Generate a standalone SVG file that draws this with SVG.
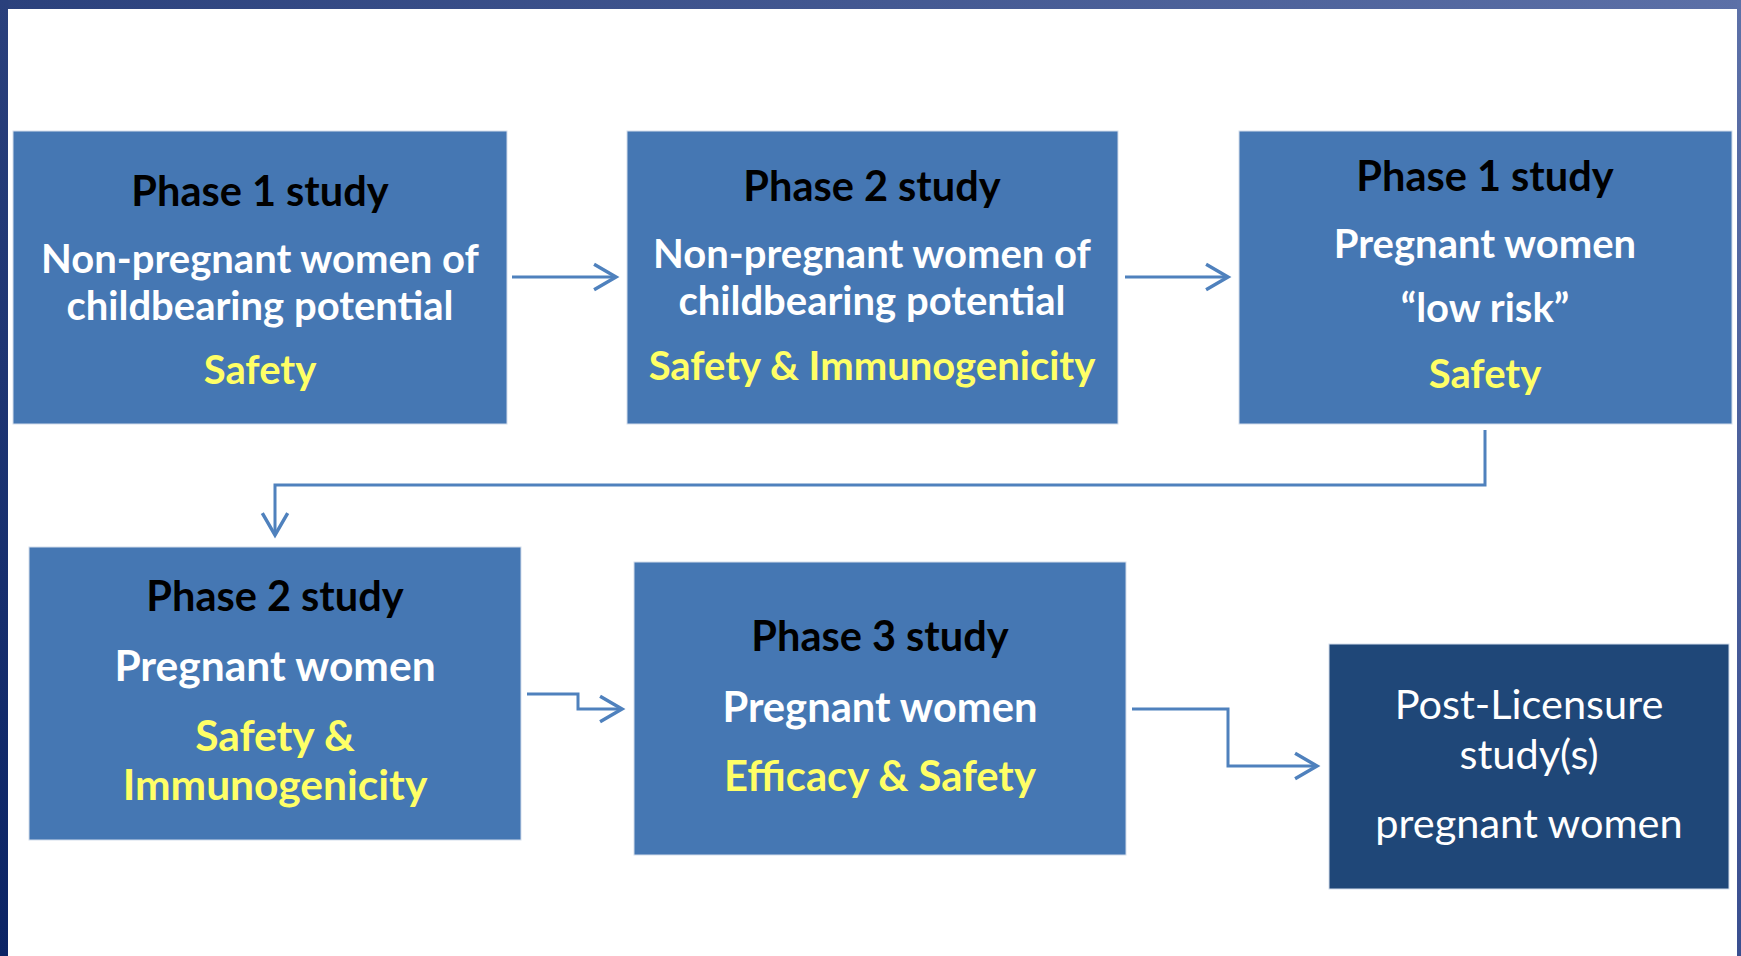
<svg xmlns="http://www.w3.org/2000/svg" width="1741" height="956" viewBox="0 0 1741 956">
<defs>
<linearGradient id="topbar" x1="0" y1="0" x2="1" y2="0">
<stop offset="0" stop-color="#2B417C"/>
<stop offset="1" stop-color="#5C70A7"/>
</linearGradient>
<linearGradient id="leftbar" x1="0" y1="0" x2="0" y2="1">
<stop offset="0" stop-color="#2A407C"/>
<stop offset="1" stop-color="#0B2465"/>
</linearGradient>
<linearGradient id="rightbar" x1="0" y1="0" x2="0" y2="1">
<stop offset="0" stop-color="#5D71A8"/>
<stop offset="1" stop-color="#3A4F90"/>
</linearGradient>
<marker id="chev" markerUnits="userSpaceOnUse" markerWidth="30" markerHeight="30" viewBox="-22 -13 26 26" refX="0" refY="0" orient="auto">
<path d="M-19,-11 L0,0 L-19,11" fill="none" stroke="#4F81BD" stroke-width="3"/>
</marker>
</defs>
<style>
.box{fill:#4577B3;stroke:#d3ddeb;stroke-width:1}
.dark{fill:#1F4778;stroke:#d3ddeb;stroke-width:1}
text{font-family:Lato,"Open Sans","Liberation Sans",sans-serif;text-anchor:middle;font-weight:bold;font-size:40px}
.h{fill:#000000;font-size:41.5px}
.w{fill:#FFFFFF}
.y{fill:#FFFF66}
.big{font-size:42.5px}
.mid{font-size:41.7px}
.r{fill:#FFFFFF;font-weight:normal;font-size:41.5px}
.conn{fill:none;stroke:#4F81BD;stroke-width:3}
</style>
<rect x="0" y="0" width="1741" height="956" fill="#FFFFFF"/>
<g id="frame">
<rect x="0" y="0" width="1741" height="9" fill="url(#topbar)"/>
<rect x="0" y="0" width="8" height="956" fill="url(#leftbar)"/>
<rect x="1737" y="0" width="4" height="956" fill="url(#rightbar)"/>
</g>
<g id="connectors">
<path class="conn" d="M512,277 L616,277" marker-end="url(#chev)"/>
<path class="conn" d="M1125,277 L1228,277" marker-end="url(#chev)"/>
<path class="conn" d="M1485,430 L1485,485 L275,485 L275,535" marker-end="url(#chev)"/>
<path class="conn" d="M527,694 L578,694 L578,709 L622,709" marker-end="url(#chev)"/>
<path class="conn" d="M1132,709 L1228,709 L1228,766 L1317,766" marker-end="url(#chev)"/>
</g>
<g id="node1">
<rect class="box" x="13" y="131" width="494" height="293"/>
<text class="h" x="260" y="206">Phase 1 study</text>
<text class="w" x="260" y="273">Non-pregnant women of</text>
<text class="w" x="260" y="320">childbearing potential</text>
<text class="y" x="260" y="384">Safety</text>
</g>
<g id="node2">
<rect class="box" x="627" y="131" width="491" height="293"/>
<text class="h" x="872" y="201">Phase 2 study</text>
<text class="w" x="872" y="268">Non-pregnant women of</text>
<text class="w" x="872" y="315">childbearing potential</text>
<text class="y" x="872" y="380">Safety &amp; Immunogenicity</text>
</g>
<g id="node3">
<rect class="box" x="1239" y="131" width="493" height="293"/>
<text class="h" x="1485" y="191">Phase 1 study</text>
<text class="w" x="1485" y="258">Pregnant women</text>
<text class="w" x="1485" y="322">“low risk”</text>
<text class="y" x="1485" y="388">Safety</text>
</g>
<g id="node4">
<rect class="box" x="29" y="547" width="492" height="293"/>
<text class="h" x="275" y="611">Phase 2 study</text>
<text class="w big" x="275" y="681">Pregnant women</text>
<text class="y big" x="275" y="751">Safety &amp;</text>
<text class="y big" x="275" y="800">Immunogenicity</text>
</g>
<g id="node5">
<rect class="box" x="634" y="562" width="492" height="293"/>
<text class="h" x="880" y="651">Phase 3 study</text>
<text class="w mid" x="880" y="722">Pregnant women</text>
<text class="y mid" x="880" y="791">Efficacy &amp; Safety</text>
</g>
<g id="node6">
<rect class="dark" x="1329" y="644" width="400" height="245"/>
<text class="r" x="1529" y="719">Post-Licensure</text>
<text class="r" x="1529" y="769">study(s)</text>
<text class="r" x="1529" y="838">pregnant women</text>
</g>
</svg>
